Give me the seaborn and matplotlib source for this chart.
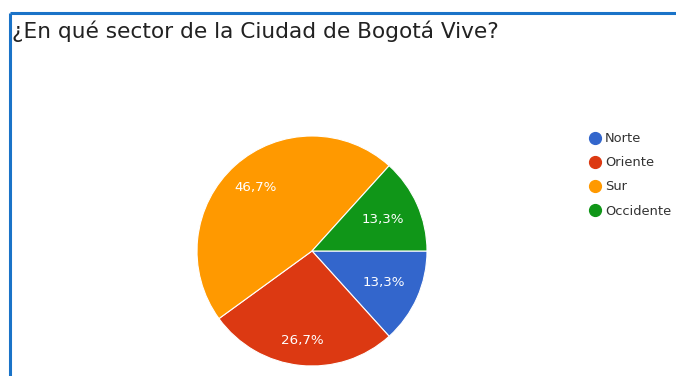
import matplotlib
matplotlib.use("Agg")
import numpy as np
import matplotlib.pyplot as plt
from matplotlib.lines import Line2D
import seaborn as sns

sectores = ["Norte", "Oriente", "Sur", "Occidente"]
porcentajes = [13.3, 26.7, 46.7, 13.3]
colores = ["#3366CC", "#DC3912", "#FF9900", "#109618"]
titulo = "¿En qué sector de la Ciudad de Bogotá Vive?"

sns.set_theme(style="white")
plt.rcParams["font.family"] = ["DejaVu Sans"]
palette = sns.color_palette(colores)

W, H = 676, 376
fig = plt.figure(figsize=(W / 100, H / 100), dpi=100)
fig.patch.set_facecolor("white")

# card frame: top and left rule
frame = fig.add_axes([0, 0, 1, 1], facecolor="none")
frame.set_xlim(0, W)
frame.set_ylim(H, 0)
frame.axis("off")
frame.plot([9.5, W], [13, 13], color="#1a73c8", lw=2.2, solid_capstyle="butt")
frame.plot([9.5, 9.5], [13, H], color="#1a73c8", lw=2.2, solid_capstyle="butt")

fig.text(12 / W, 1 - 37.5 / H, titulo, fontsize=15.6, color="#222222",
         ha="left", va="baseline")

cx, cy, r = 312, 251, 115
ax = fig.add_axes([(cx - r) / W, (H - cy - r) / H, 2 * r / W, 2 * r / H])
wedges, texts, autotexts = ax.pie(
    porcentajes, colors=palette, startangle=0, counterclock=False,
    autopct=lambda p: f"{p:.1f}%".replace(".", ","), pctdistance=0.7,
    wedgeprops=dict(edgecolor="white", linewidth=0.8),
    textprops=dict(color="white", fontsize=9.6),
)
ax.set_xlim(-1, 1)
ax.set_ylim(-1, 1)
ax.set_aspect("equal")

# label radius per slice
distancias = [0.68, 0.78, 0.74, 0.67]
for w, t, d in zip(wedges, autotexts, distancias):
    ang = np.deg2rad((w.theta1 + w.theta2) / 2)
    t.set_position((d * np.cos(ang), d * np.sin(ang)))

handles = [Line2D([0], [0], marker="o", linestyle="none", markersize=8.5,
                  markerfacecolor=c, markeredgecolor=c) for c in palette]
fig.legend(handles, sectores, loc="upper left",
           bbox_to_anchor=(583 / W, 1 - 127 / H), frameon=False,
           fontsize=9.4, labelcolor="#333333", handletextpad=0.3,
           labelspacing=0.85, handlelength=1.0, borderaxespad=0)

fig.savefig("out.png", dpi=100, facecolor="white")
